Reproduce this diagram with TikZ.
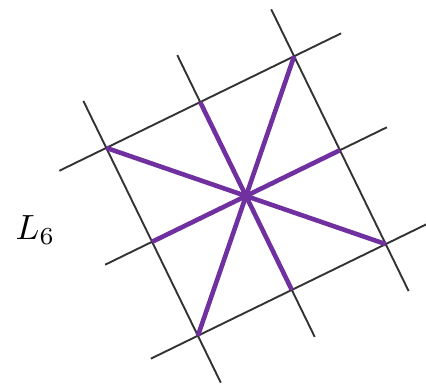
\documentclass[tikz,border=0pt]{standalone}
\usepackage{tikz}
\definecolor{rayviolet}{RGB}{112,48,160}
\definecolor{gridgray}{RGB}{51,51,51}

\begin{document}
\begin{tikzpicture}[
  x=1pt, y=1pt,
  gridline/.style={draw=gridgray, line width=1.9pt},
  ray/.style={draw=rayviolet, line width=4.6pt},
  lbl/.style={font=\normalsize, scale=3.5, inner sep=0pt, anchor=base west}
]
  \useasboundingbox (0,0) rectangle (426,384);
  \clip (0,0) rectangle (426,384);
  \begin{scope}[shift={(246,188)}, rotate=26, x=104.5pt, y=104.5pt]
    \coordinate (c) at (0,0);
    % 3x3 grid, lines run past the square
    \foreach \k in {-1,0,1} {
      \draw[gridline] (-1.5,\k) -- (1.5,\k);
      \draw[gridline] (\k,-1.5) -- (\k,1.5);
    }
    % rays through the centre
    \foreach \i/\j in {1/0,1/1,0/1,-1/1}
      \draw[ray] (\i,\j) -- (c) -- (-\i,-\j);
  \end{scope}
  \node[lbl] (l6) at (15,145) {$L_6$};
\end{tikzpicture}
\end{document}
